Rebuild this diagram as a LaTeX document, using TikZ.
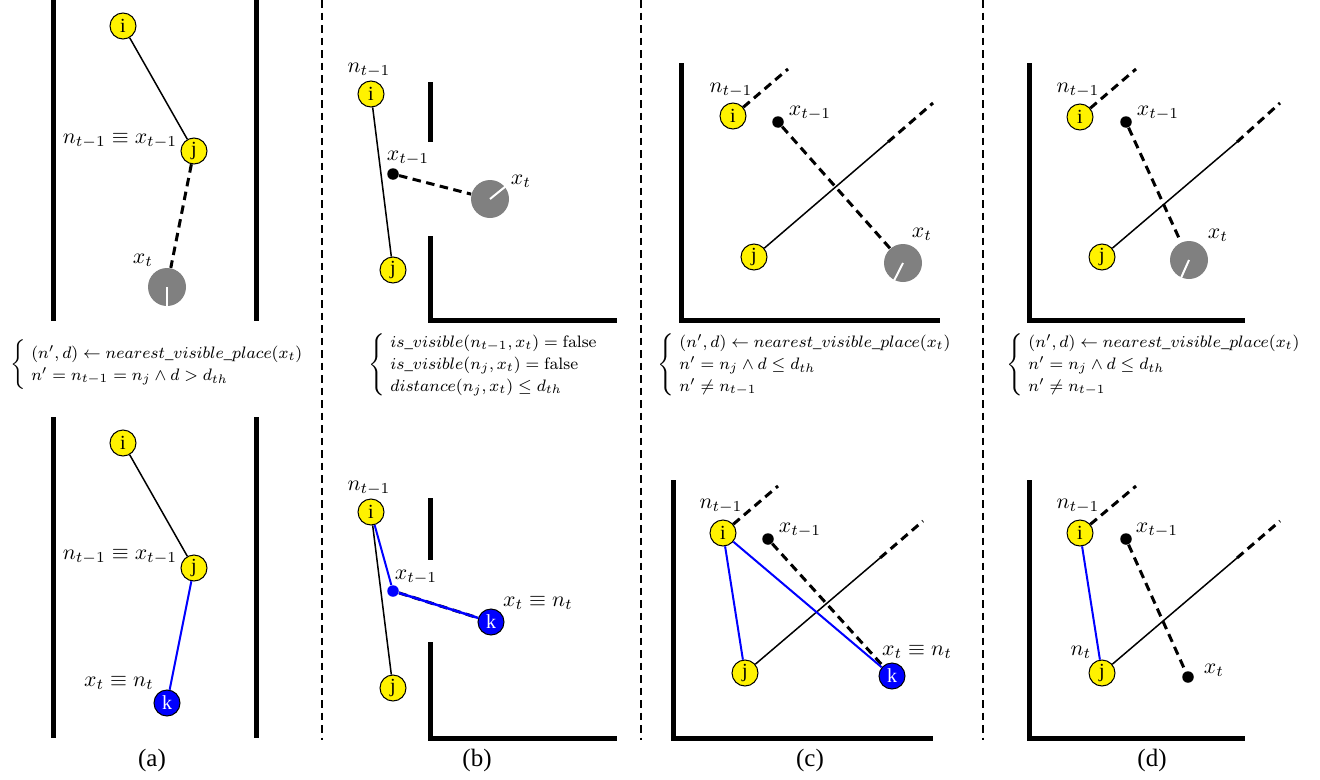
\documentclass[tikz,border=0pt]{standalone}
\usepackage[no-math]{fontspec}
\setmainfont{Liberation Serif}
\newcommand{\lblmath}[1]{\scalebox{0.87}{$#1$}}
\newcommand{\condmath}[1]{\scalebox{0.83}{\footnotesize\renewcommand{\arraystretch}{1.1}$#1$}}
\begin{document}
\begin{tikzpicture}[x=0.4pt, y=-0.4pt,
		place/.style={circle, draw, fill=yellow, minimum size=10.4pt, inner sep=0pt, font=\footnotesize},
		newplace/.style={place, fill=blue, text=white},
		pose/.style={circle, fill=gray, minimum size=15.2pt, inner sep=0pt},
		posdot/.style={circle, fill=black, minimum size=4.6pt, inner sep=0pt},
		wall/.style={line width=2pt},
		sep/.style={semithick, densely dashed},
		link/.style={semithick},
		newlink/.style={blue, thick},
		track/.style={very thick, dash pattern=on 3.4pt off 2.2pt},
		tick/.style={white, thick},
		cond/.style={anchor=west}]
	\useasboundingbox (0,0) rectangle (1320,780);
	% separators
	\draw[sep] (322,0) -- (322,740);
	\draw[sep] (641,0) -- (641,740);
	\draw[sep] (983,0) -- (983,740);
	% (a) corridor
	\draw[wall] (53,0) -- (53,321);
	\draw[wall] (256,0) -- (256,321);
	\node[place] (a1i) at (123,26) {i};
	\node[place] (a1j) at (194,151) {j};
	\node[pose] (a1x) at (167,287) {};
	\draw[tick] (a1x.center) -- (a1x.-90);
	\draw[link] (a1i) -- (a1j);
	\draw[track] (a1j) -- (a1x);
	\node (a1n) at (120,141) {\lblmath{n_{t-1}\equiv x_{t-1}}};
	\node (a1xl) at (143,260) {\lblmath{x_t}};
	\node[cond] (a0c) at (2,365) {\condmath{\left\{\begin{array}{@{\;}l@{}}
		(n',d) \leftarrow nearest\_visible\_place(x_t)\\
		n' = n_{t-1} = n_j \wedge d > d_{th}
		\end{array}\right.}};
	\draw[wall] (53,417) -- (53,738);
	\draw[wall] (256,417) -- (256,738);
	\node[place] (a2i) at (123,443) {i};
	\node[place] (a2j) at (194,568) {j};
	\node[newplace] (a2k) at (167,703) {k};
	\draw[link] (a2i) -- (a2j);
	\draw[newlink] (a2j) -- (a2k);
	\node (a2n) at (120,557) {\lblmath{n_{t-1}\equiv x_{t-1}}};
	\node (a2xl) at (119,683) {\lblmath{x_t\equiv n_t}};
	\node (acap) at (152,760) {(a)};
	% (b) doorway
	\draw[wall] (430,82) -- (430,142);
	\draw[wall] (430,236) |- (617,320);
	\node[place] (b1i) at (371,94) {i};
	\node[place] (b1j) at (393,270) {j};
	\node[posdot] (b1p) at (393,174) {};
	\node[pose] (b1x) at (490,199) {};
	\draw[tick] (b1x.center) -- (b1x.39);
	\draw[link] (b1i) -- (b1j);
	\draw[track] (b1p) -- (b1x);
	\node (b1n) at (369,70) {\lblmath{n_{t-1}}};
	\node (b1pl) at (408,158) {\lblmath{x_{t-1}}};
	\node (b1xl) at (521,181) {\lblmath{x_t}};
	\node[cond] (b0c) at (360,365) {\condmath{\left\{\begin{array}{@{\;}l@{}}
		is\_visible(n_{t-1},x_t) = \mathrm{false}\\
		is\_visible(n_j,x_t) = \mathrm{false}\\
		distance(n_j,x_t) \leq d_{th}
		\end{array}\right.}};
	\draw[wall] (430,498) -- (430,560);
	\draw[wall] (430,642) |- (617,738);
	\node[place] (b2i) at (371,512) {i};
	\node[place] (b2j) at (393,688) {j};
	\node[posdot, fill=blue] (b2p) at (393,591) {};
	\node[newplace] (b2k) at (491,622) {k};
	\draw[link] (b2i) -- (b2j);
	\draw[newlink] (b2i) -- (b2p);
	\draw[track] (b2p) -- (b2k);
	\draw[blue, line width=1pt] (b2p) -- (b2k);
	\node (b2n) at (369,488) {\lblmath{n_{t-1}}};
	\node (b2pl) at (416,577) {\lblmath{x_{t-1}}};
	\node (b2kl) at (538,603) {\lblmath{x_t\equiv n_t}};
	\node (bcap) at (477,760) {(b)};
	% (c) corner
	\draw[wall] (681,63) |- (940,320);
	\node[place] (c1i) at (733,116) {i};
	\node[place] (c1j) at (754,257) {j};
	\node[posdot] (c1p) at (778,122) {};
	\node[pose] (c1x) at (903,263) {};
	\draw[tick] (c1x.center) -- (c1x.-117);
	\coordinate (c1e) at (788,69);
	\coordinate (c1m) at (888,142);
	\coordinate (c1f) at (933,103);
	\draw[track] (c1i) -- (c1e);
	\draw[link] (c1j) -- (c1m);
	\draw[track] (c1m) -- (c1f);
	\draw[track] (c1p) -- (c1x);
	\node (c1n) at (731,90) {\lblmath{n_{t-1}}};
	\node (c1pl) at (810,113) {\lblmath{x_{t-1}}};
	\node (c1xl) at (922,234) {\lblmath{x_t}};
	\node[cond] (c0c) at (649,365) {\condmath{\left\{\begin{array}{@{\;}l@{}}
		(n',d) \leftarrow nearest\_visible\_place(x_t)\\
		n' = n_j \wedge d \leq d_{th}\\
		n' \neq n_{t-1}
		\end{array}\right.}};
	\draw[wall] (673,480) |- (933,738);
	\node[place] (c2i) at (723,533) {i};
	\node[place] (c2j) at (745,673) {j};
	\node[posdot] (c2p) at (768,539) {};
	\node[newplace] (c2k) at (892,676) {k};
	\coordinate (c2e) at (778,486);
	\coordinate (c2m) at (880,558);
	\coordinate (c2f) at (923,521);
	\draw[track] (c2i) -- (c2e);
	\draw[link] (c2j) -- (c2m);
	\draw[track] (c2m) -- (c2f);
	\draw[track] (c2p) -- (c2k);
	\draw[newlink] (c2i) -- (c2j);
	\draw[newlink] (c2i) -- (c2k);
	\node (c2n) at (721,506) {\lblmath{n_{t-1}}};
	\node (c2pl) at (800,530) {\lblmath{x_{t-1}}};
	\node (c2kl) at (917,652) {\lblmath{x_t\equiv n_t}};
	\node (ccap) at (810,760) {(c)};
	% (d) corner, no change
	\draw[wall] (1029,63) |- (1245,320);
	\node[place] (d1i) at (1080,117) {i};
	\node[place] (d1j) at (1102,257) {j};
	\node[posdot] (d1p) at (1126,122) {};
	\node[pose] (d1x) at (1189,260) {};
	\draw[tick] (d1x.center) -- (d1x.-114);
	\coordinate (d1e) at (1136,69);
	\coordinate (d1m) at (1237,142);
	\coordinate (d1f) at (1280,103);
	\draw[track] (d1i) -- (d1e);
	\draw[link] (d1j) -- (d1m);
	\draw[track] (d1m) -- (d1f);
	\draw[track] (d1p) -- (d1x);
	\node (d1n) at (1078,90) {\lblmath{n_{t-1}}};
	\node (d1pl) at (1158,113) {\lblmath{x_{t-1}}};
	\node (d1xl) at (1218,235) {\lblmath{x_t}};
	\node[cond] (d0c) at (998,365) {\condmath{\left\{\begin{array}{@{\;}l@{}}
		(n',d) \leftarrow nearest\_visible\_place(x_t)\\
		n' = n_j \wedge d \leq d_{th}\\
		n' \neq n_{t-1}
		\end{array}\right.}};
	\draw[wall] (1029,480) |- (1245,738);
	\node[place] (d2i) at (1080,533) {i};
	\node[place] (d2j) at (1102,673) {j};
	\node[posdot] (d2p) at (1126,539) {};
	\node[posdot] (d2x) at (1188,677) {};
	\coordinate (d2e) at (1136,486);
	\coordinate (d2m) at (1237,558);
	\coordinate (d2f) at (1280,521);
	\draw[track] (d2i) -- (d2e);
	\draw[link] (d2j) -- (d2m);
	\draw[track] (d2m) -- (d2f);
	\draw[track] (d2p) -- (d2x);
	\draw[newlink] (d2i) -- (d2j);
	\node (d2n) at (1078,506) {\lblmath{n_{t-1}}};
	\node (d2pl) at (1157,530) {\lblmath{x_{t-1}}};
	\node (d2jl) at (1081,652) {\lblmath{n_t}};
	\node (d2xl) at (1214,670) {\lblmath{x_t}};
	\node (dcap) at (1152,760) {(d)};
\end{tikzpicture}
\end{document}
